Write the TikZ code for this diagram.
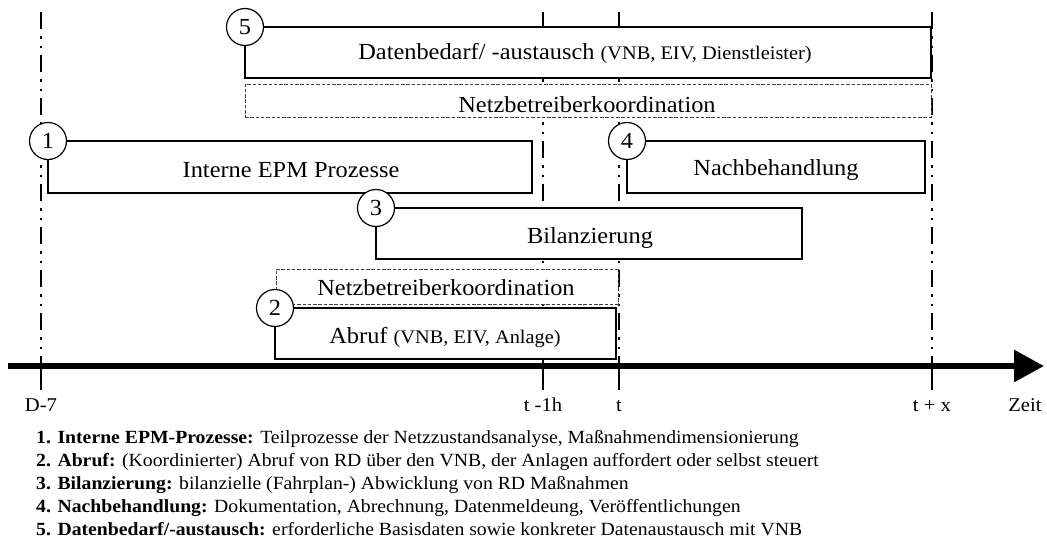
\documentclass[tikz,border=0pt]{standalone}
\usepackage{fontspec}
\usepackage{graphicx}
\setmainfont{Liberation Serif}
\usetikzlibrary{arrows.meta}
\newcommand\sx[1]{\scalebox{1.06}[1]{#1}}
\newcommand\bigtxt{\fontsize{23}{26}\selectfont}
\newcommand\smtxt{\fontsize{19.2}{22}\selectfont}
\newcommand\lgtxt{\fontsize{18.6}{21}\selectfont}
\newcommand\axtxt{\fontsize{19.5}{22}\selectfont}
\tikzset{
  box/.style={draw, fill=white, line width=1.2pt, inner sep=0pt, outer sep=0pt, anchor=north west},
  dbox/.style={draw=black!75, fill=white, line width=1pt, dash pattern=on 3.5pt off 1.8pt, inner sep=0pt, outer sep=0pt, anchor=north west},
  btxt/.style={anchor=base, inner sep=0pt, font=\bigtxt},
  num/.style={circle, draw, fill=white, line width=1.2pt, minimum size=37pt, inner sep=0pt, font=\bigtxt},
  vline/.style={line width=2.4pt, dash pattern=on 17pt off 7pt on 2.5pt off 7pt on 2.5pt off 7pt},
  tickline/.style={line width=2.4pt},
  lbl/.style={anchor=base, inner sep=0pt, font=\axtxt},
  legend/.style={anchor=base west, inner sep=0pt, font=\lgtxt}
}
\begin{document}
\begin{tikzpicture}[x=1pt, y=-1pt]
\useasboundingbox (0,0) rectangle (1047,549);
% vertical time markers
\foreach \n/\xx in {A/41, B/543, C/619, D/932} {
  \coordinate (top\n) at (\xx,12);
  \coordinate (ax\n) at (\xx,366);
  \coordinate (end\n) at (\xx,390);
}
\foreach \n in {A,B,C,D} {
  \draw[vline] (top\n) -- (ax\n);
  \draw[tickline] (ax\n) -- (end\n);
}
% boxes
\node[box, minimum width=686pt, minimum height=51pt] (b5) at (245,27) {};
\node[dbox, minimum width=686pt, minimum height=33pt] (d5) at (245,84) {};
\node[box, minimum width=484pt, minimum height=52pt] (b1) at (48,141) {};
\node[box, minimum width=298pt, minimum height=52pt] (b4) at (627,141) {};
\node[box, minimum width=426pt, minimum height=51pt] (b3) at (376,208) {};
\node[dbox, minimum width=342pt, minimum height=35pt] (d2) at (276,269) {};
\node[box, minimum width=341pt, minimum height=51pt] (b2) at (275,308) {};
% box texts
\node[btxt] (t5) at (585,59) {\sx{Datenbedarf/ -austausch {\smtxt (VNB, EIV, Dienstleister)}}};
\node[btxt] (td5) at (587,112) {\sx{Netzbetreiberkoordination}};
\node[btxt] (t1) at (291,177) {\sx{Interne EPM Prozesse}};
\node[btxt] (t4) at (776,175) {\sx{Nachbehandlung}};
\node[btxt] (t3) at (590,243) {\sx{Bilanzierung}};
\node[btxt] (td2) at (446,295) {\sx{Netzbetreiberkoordination}};
\node[btxt] (t2) at (445,343) {\sx{Abruf {\smtxt (VNB, EIV, Anlage)}}};
% number circles
\node[num] (n5) at (b5.north west) {\sx{5}};
\node[num] (n1) at (b1.north west) {\sx{1}};
\node[num] (n4) at (b4.north west) {\sx{4}};
\node[num] (n3) at (b3.north west) {\sx{3}};
\node[num] (n2) at (b2.north west) {\sx{2}};
% time axis
\coordinate (axL) at (8,366);
\coordinate (axR) at (1044,366);
\draw[line width=6pt, -{Triangle[length=30pt, width=31pt]}] (axL) -- (axR);
% axis labels
\node[lbl] (lA) at (41,411) {\sx{D-7}};
\node[lbl] (lB) at (543,411) {\sx{t -1h}};
\node[lbl] (lC) at (619,411) {\sx{t}};
\node[lbl] (lD) at (932,411) {\sx{t + x}};
\node[lbl] (lZ) at (1025,411) {\sx{Zeit}};
% legend
\node[legend] (g1) at (36,443) {\sx{\textbf{1. Interne EPM-Prozesse:} Teilprozesse der Netzzustandsanalyse, Maßnahmendimensionierung}};
\node[legend] (g2) at (36,466) {\sx{\textbf{2. Abruf:} (Koordinierter) Abruf von RD über den VNB, der Anlagen auffordert oder selbst steuert}};
\node[legend] (g3) at (36,489) {\sx{\textbf{3. Bilanzierung:} bilanzielle (Fahrplan-) Abwicklung von RD Maßnahmen}};
\node[legend] (g4) at (36,512) {\sx{\textbf{4. Nachbehandlung:} Dokumentation, Abrechnung, Datenmeldeung, Veröffentlichungen}};
\node[legend] (g5) at (36,535) {\sx{\textbf{5. Datenbedarf/-austausch:} erforderliche Basisdaten sowie konkreter Datenaustausch mit VNB}};
\end{tikzpicture}
\end{document}
